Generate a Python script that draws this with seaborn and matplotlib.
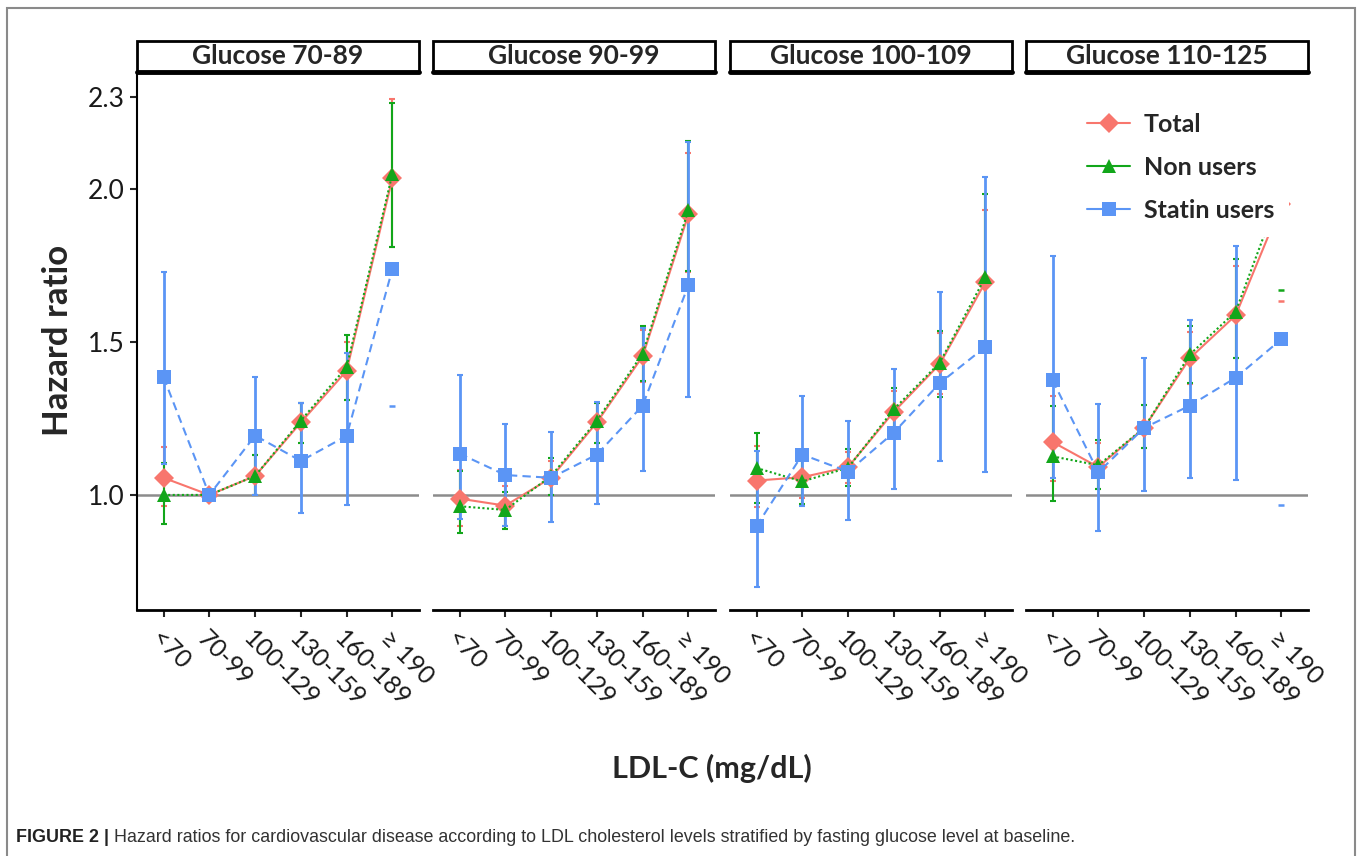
import numpy as np
import pandas as pd
import seaborn as sns
import matplotlib.pyplot as plt
from matplotlib.patches import Rectangle
from matplotlib.lines import Line2D

nan = np.nan

ldl = ['<70', '70-99', '100-129', '130-159', '160-189', '≥ 190']
panels = ['Glucose 70-89', 'Glucose 90-99', 'Glucose 100-109', 'Glucose 110-125']
groups = ['Total', 'Non users', 'Statin users']

# hazard ratios, one row per glucose panel
total_hr = [[1.056, 1.00, 1.062, 1.237, 1.406, 2.036],
            [0.988, 0.965, 1.056, 1.237, 1.453, 1.917],
            [1.047, 1.058, 1.091, 1.272, 1.427, 1.696],
            [1.173, 1.091, 1.219, 1.447, 1.587, 1.95]]
total_lo = [[0.963, nan, 1.00, 1.17, 1.31, 1.809],
            [0.90, 0.90, 1.00, 1.17, 1.37, 1.73],
            [0.96, 0.99, 1.04, 1.20, 1.33, 1.50],
            [1.044, 1.02, 1.152, 1.362, 1.447, 1.634]]
total_hi = [[1.155, nan, 1.13, 1.30, 1.50, 2.293],
            [1.08, 1.03, 1.11, 1.30, 1.54, 2.118],
            [1.16, 1.13, 1.14, 1.34, 1.53, 1.931],
            [1.324, 1.17, 1.295, 1.534, 1.747, nan]]

non_hr = [[1.00, 1.00, 1.062, 1.243, 1.418, 2.05],
          [0.963, 0.951, 1.062, 1.243, 1.462, 1.931],
          [1.088, 1.044, 1.089, 1.280, 1.432, 1.712],
          [1.126, 1.097, 1.219, 1.459, 1.599, 2.00]]
non_lo = [[0.904, nan, 1.00, 1.17, 1.31, 1.81],
          [0.875, 0.89, 1.00, 1.17, 1.371, 1.733],
          [0.974, 0.97, 1.03, 1.21, 1.319, 1.48],
          [0.98, 1.02, 1.152, 1.366, 1.447, 1.671]]
non_hi = [[1.103, nan, 1.13, 1.30, 1.523, 2.28],
          [1.079, 1.01, 1.12, 1.30, 1.552, 2.155],
          [1.204, 1.12, 1.15, 1.348, 1.535, 1.982],
          [1.29, 1.178, 1.295, 1.552, 1.77, nan]]

statin_hr = [[1.385, 1.00, 1.194, 1.111, 1.193, 1.739],
             [1.135, 1.065, 1.056, 1.132, 1.292, 1.686],
             [0.898, 1.132, 1.076, 1.204, 1.365, 1.484],
             [1.375, 1.074, 1.219, 1.292, 1.383, 1.509]]
statin_lo = [[1.10, nan, 1.00, 0.94, 0.968, 1.29],
             [0.92, 0.898, 0.912, 0.969, 1.079, 1.319],
             [0.70, 0.963, 0.918, 1.019, 1.111, 1.074],
             [1.056, 0.881, 1.013, 1.056, 1.05, 0.968]]
statin_hi = [[1.727, nan, 1.385, 1.30, 1.465, nan],
             [1.391, 1.231, 1.205, 1.303, 1.546, 2.153],
             [1.144, 1.322, 1.24, 1.41, 1.663, 2.039],
             [1.782, 1.298, 1.447, 1.572, 1.815, nan]]

colors = {'Total': '#F8766D', 'Non users': '#12A61A', 'Statin users': '#5B95F5'}
markers = {'Total': 'D', 'Non users': '^', 'Statin users': 's'}
dashes = {'Total': '', 'Non users': (1, 1.2), 'Statin users': (4, 2.5)}

rows = []
for p, name in enumerate(panels):
    for g, hr, lo, hi in [('Total', total_hr, total_lo, total_hi),
                          ('Non users', non_hr, non_lo, non_hi),
                          ('Statin users', statin_hr, statin_lo, statin_hi)]:
        for k in range(len(ldl)):
            rows.append(dict(panel=name, group=g, pos=k, ldl=ldl[k],
                             hr=hr[p][k], lo=lo[p][k], hi=hi[p][k]))
df = pd.DataFrame(rows)

sns.set_style('white')
plt.rcParams['font.family'] = ['Lato', 'DejaVu Sans']

W, H = 1357, 856
fig = plt.figure(figsize=(W / 100, H / 100), dpi=100)

lefts = [137, 433, 730, 1026]
pw, top, bot = 282, 72, 610

for i, name in enumerate(panels):
    ax = fig.add_axes([lefts[i] / W, (H - bot) / H, pw / W, (bot - top) / H])
    sub = df[df.panel == name]

    ax.axhline(1.0, color='#8c8c8c', lw=1.8, zorder=1)

    for g in groups:
        s = sub[sub.group == g]
        ok = s.lo.notna() & s.hi.notna()
        ax.errorbar(s.pos[ok], s.hr[ok],
                    yerr=[s.hr[ok] - s.lo[ok], s.hi[ok] - s.hr[ok]],
                    fmt='none', ecolor=colors[g],
                    elinewidth=2 if g == 'Statin users' else 1.5,
                    capsize=2, capthick=1.5, zorder=1.5)
        # CIs that run off the chart only show their lower cap
        cap = s.lo.notna() & s.hi.isna()
        ax.plot(s.pos[cap], s.lo[cap], ls='none', marker='_', ms=5, mew=1.8,
                color=colors[g], zorder=1.5)

    sns.lineplot(data=sub, x='pos', y='hr', hue='group', style='group',
                 hue_order=groups, style_order=groups, palette=colors,
                 markers=markers, dashes=dashes, markersize=10,
                 markeredgewidth=0, lw=1.5, sort=False, errorbar=None,
                 legend=False, ax=ax, zorder=3)

    ax.set_xlim(-0.58, 5.58)
    ax.set_ylim(0.624, 2.382)
    ax.set_xticks(range(len(ldl)))
    ax.set_xticklabels(ldl, rotation=-45, ha='left', va='top',
                       rotation_mode='anchor', fontsize=18, color='#1a1a1a')
    ax.tick_params(axis='x', length=5, width=1.5, pad=7, bottom=True)
    ax.set_xlabel('')
    ax.set_ylabel('')
    for side in ['top', 'right']:
        ax.spines[side].set_visible(False)
    ax.spines['bottom'].set_linewidth(2)
    ax.spines['bottom'].set_color('black')
    if i == 0:
        ax.set_yticks([1.0, 1.5, 2.0, 2.3])
        ax.set_yticklabels(['1.0', '1.5', '2.0', '2.3'], fontsize=19, color='#1a1a1a')
        ax.tick_params(axis='y', length=5, width=1.5, left=True, pad=4)
        ax.spines['left'].set_linewidth(1.5)
        ax.spines['left'].set_color('black')
    else:
        ax.set_yticks([])
        ax.spines['left'].set_visible(False)

    # facet strip
    sh = 31 / (bot - top)
    ax.add_patch(Rectangle((0, 1), 1, sh, transform=ax.transAxes, clip_on=False,
                           facecolor='white', edgecolor='black', lw=2, zorder=5))
    ax.plot([0, 1], [1, 1], transform=ax.transAxes, color='black', lw=3.5,
            clip_on=False, zorder=6)
    ax.text(0.5, 1 + sh / 2, name, transform=ax.transAxes, ha='center',
            va='center', fontsize=19, fontweight='bold', zorder=7)

    if i == 3:
        handles = [Line2D([], [], color=colors[g], marker=markers[g], ms=10,
                          mew=0, lw=1.5) for g in groups]
        leg = ax.legend(handles, groups, loc='upper left', bbox_to_anchor=(0.12, 0.975),
                        frameon=True, framealpha=1, facecolor='white', edgecolor='none',
                        fontsize=18, labelspacing=0.8, handlelength=1.7,
                        handletextpad=0.55, borderpad=0.6)
        for t in leg.get_texts():
            t.set_fontweight('bold')

fig.text(58 / W, 1 - 340 / H, 'Hazard ratio', rotation=90, ha='center',
         va='center', fontsize=25, fontweight='bold')
fig.text(712 / W, 1 - 768 / H, 'LDL-C (mg/dL)', ha='center', va='center',
         fontsize=22, fontweight='bold')

# caption
cap_font = ['Liberation Sans', 'DejaVu Sans']
t1 = fig.text(16 / W, 1 - 842 / H, 'FIGURE 2 |', fontsize=12.9, fontweight='bold',
              family=cap_font, color='#222222', va='baseline')
r = fig.canvas.get_renderer()
bb = t1.get_window_extent(renderer=r)
fig.text((bb.x1 + 5) / W, 1 - 842 / H,
         'Hazard ratios for cardiovascular disease according to LDL cholesterol '
         'levels stratified by fasting glucose level at baseline.',
         fontsize=12.9, family=cap_font, color='#333333', va='baseline')

fig.add_artist(Rectangle((7 / W, -0.01), (1355 - 7) / W, (H - 8) / H + 0.01,
                         transform=fig.transFigure, fill=False,
                         edgecolor='#8a8a8a', lw=1.5))

fig.savefig('out.png', dpi=100)
